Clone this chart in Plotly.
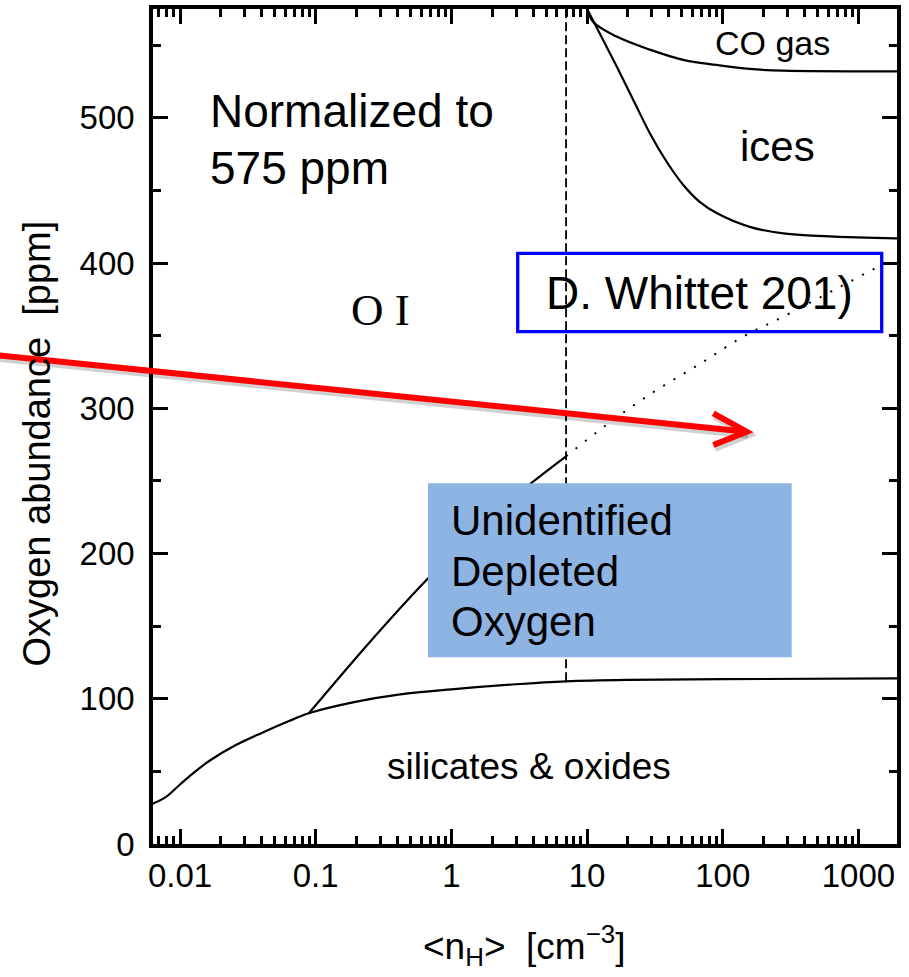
import plotly.graph_objects as go

# ---- curves: oxygen budget vs. mean hydrogen density ----
silicate_nh = [0.0062, 0.0079, 0.01, 0.0126, 0.0166, 0.025, 0.04, 0.063, 0.089, 0.2, 0.42, 1, 3, 7, 20, 100, 2000]
silicate_o = [27.5, 32.5, 41, 49, 57.5, 67.5, 76.5, 84.5, 90, 98, 103, 106.5, 110, 112, 113, 113.5, 114]

depleted_nh = [0.089, 0.25, 0.658, 2.0, 4.0, 7.0]
depleted_o = [90, 139, 182, 226, 249.5, 267]

extrap_nh = [7.0, 13.9, 29.9, 66, 141.6, 279, 1400]
extrap_o = [267, 288.6, 310.4, 329.9, 349.4, 363.2, 397.6]

ice_nh = [10, 16.5, 21.9, 29, 38.5, 51, 68, 90, 158, 279, 1900, 2000]
ice_o = [575, 535.5, 512.4, 489.5, 470, 454, 442, 434.5, 425, 420.5, 417, 417]

co_nh = [10, 11.1, 16.5, 29, 51, 90, 158, 279, 2000]
co_o = [575, 566, 556, 547, 540, 536.5, 533.7, 532.5, 532]

dashed_nh = [7, 7]
dashed_o = [112, 575]

x_major = [0.01, 0.1, 1, 10, 100, 1000]
x_major_text = ["0.01", "0.1", "1", "10", "100", "1000"]
x_minor = [k * 10.0 ** e for e in range(-3, 3) for k in range(2, 10)]
y_major = [0, 100, 200, 300, 400, 500]

W, H = 909, 977
L, R, T, B = 153, 897, 9, 844  # plot area in pixels
PW, PH = R - L, B - T


def px(x):
    return (x - L) / PW


def py(y):
    return (B - y) / PH


SANS = "Liberation Sans, Arial, sans-serif"
SERIF = "Liberation Serif, Times New Roman, serif"

fig = go.Figure()
line_kw = dict(color="black", width=2.2)
fig.add_trace(go.Scatter(x=silicate_nh, y=silicate_o, mode="lines",
                         line=dict(**line_kw, shape="spline", smoothing=1.0), hoverinfo="skip"))
fig.add_trace(go.Scatter(x=depleted_nh, y=depleted_o, mode="lines",
                         line=dict(**line_kw, shape="spline", smoothing=1.0), hoverinfo="skip"))
fig.add_trace(go.Scatter(x=extrap_nh, y=extrap_o, mode="lines",
                         line=dict(color="black", width=2, dash="2px,10px", shape="spline"), hoverinfo="skip"))
fig.add_trace(go.Scatter(x=ice_nh, y=ice_o, mode="lines",
                         line=dict(**line_kw, shape="spline", smoothing=1.0), hoverinfo="skip"))
fig.add_trace(go.Scatter(x=co_nh, y=co_o, mode="lines",
                         line=dict(**line_kw, shape="spline", smoothing=1.0), hoverinfo="skip"))
fig.add_trace(go.Scatter(x=dashed_nh, y=dashed_o, mode="lines",
                         line=dict(color="black", width=1.8, dash="9px,4px"), hoverinfo="skip"))

shapes = []
# unidentified depleted oxygen box (opaque, covers the curves beneath)
shapes.append(dict(type="rect", xref="paper", yref="paper", x0=px(428), x1=px(791.7), y0=py(657.3), y1=py(483.3),
                   fillcolor="#8EB4E3", line=dict(width=0), layer="above"))
# reference box
shapes.append(dict(type="rect", xref="paper", yref="paper", x0=px(517.7), x1=px(881.7), y0=py(331.7), y1=py(253.3),
                   fillcolor="rgba(0,0,0,0)", line=dict(color="#0000FF", width=3.3), layer="above"))


# red pointer arrow with a soft shadow
def seg_path(pts):
    return "M " + " L ".join(f"{px(a):.5f},{py(b):.5f}" for a, b in pts)


arrow_line = [(-5, 355.0), (746.7, 431.7)]
arrow_head = [(713.3, 413.3), (746.7, 431.7), (713.3, 445.0)]
for dx, dy, col, w in [(1.5, 3.0, "rgba(0,0,0,0.18)", 7.5), (0, 0, "#FF0000", 6)]:
    for pts in (arrow_line, arrow_head):
        shapes.append(dict(type="path", xref="paper", yref="paper",
                           path=seg_path([(a + dx, b + dy) for a, b in pts]),
                           line=dict(color=col, width=w), layer="above"))

annotations = []


def label(text, x, y, size, xanchor="left", family=SANS, angle=0):
    annotations.append(dict(text=text, xref="paper", yref="paper", x=px(x), y=py(y), xanchor=xanchor,
                            yanchor="middle", showarrow=False, textangle=angle,
                            font=dict(family=family, size=size, color="black")))


label("Normalized to", 208, 110.8, 46)
label("575 ppm", 208, 168.3, 46)
label("O I", 349, 310, 45, family=SERIF)
label("CO gas", 713, 43.3, 34)
label("ices", 738, 146.7, 42)
label("silicates &amp; oxides", 385, 766, 37)
label("D. Whittet 201)", 699.7, 293, 46, xanchor="center")
label("Unidentified", 449.3, 520, 42)
label("Depleted", 449.3, 571.7, 42)
label("Oxygen", 449.3, 621.7, 42)
label("Oxygen abundance\u00a0 [ppm]", 36, 443.5, 38, xanchor="center", angle=-90)
label("&lt;n<sub>H</sub>&gt;\u00a0 [cm<sup>\u22123</sup>]", 524, 946, 37, xanchor="center")

axis_common = dict(showline=True, linecolor="black", linewidth=3.5, mirror="ticks",
                   ticks="inside", ticklen=15, tickwidth=3, tickcolor="black",
                   showgrid=False, zeroline=False,
                   tickfont=dict(family=SANS, size=33, color="black"))

fig.update_layout(
    width=W, height=H,
    margin=dict(l=L, r=W - R, t=T, b=H - B, autoexpand=False),
    paper_bgcolor="white", plot_bgcolor="white",
    showlegend=False,
    xaxis=dict(type="log", range=[-2.199, 3.284], tickmode="array", tickvals=x_major, ticktext=x_major_text,
               minor=dict(tickmode="array", tickvals=x_minor, ticks="inside", ticklen=8, tickwidth=3,
                          tickcolor="black", showgrid=False),
               **axis_common),
    yaxis=dict(range=[0, 575], tickmode="array", tickvals=y_major, ticklabelstandoff=8,
               minor=dict(dtick=50, ticks="inside", ticklen=8, tickwidth=3, tickcolor="black", showgrid=False),
               **axis_common),
    shapes=shapes,
    annotations=annotations,
)

fig.write_html("out.html")
